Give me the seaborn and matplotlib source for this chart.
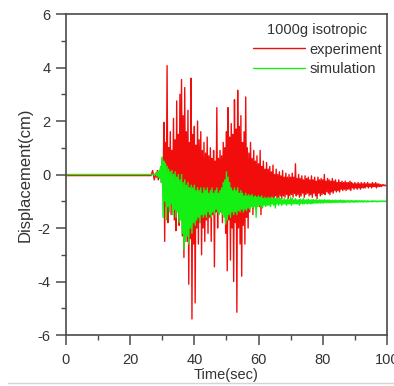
import numpy as np
import pandas as pd
import matplotlib
matplotlib.use("Agg")
import matplotlib.pyplot as plt
from matplotlib.lines import Line2D
from matplotlib.ticker import MultipleLocator
import seaborn as sns

# ---------------- data ----------------
# quiet part before the shaking (time, value)
pre_time = [0.0, 26.5, 27.0, 27.5]
exp_pre = [-0.04, -0.04, 0.15, -0.2]
sim_pre = [0.0, 0.0, 0.0, 0.0]

# strong-motion part: one peak and one trough every 0.5 s, from 28.0 s
t_start = 28.0
t_step = 0.5

exp_upper = [
    0.05, 0.15, 0.1, 0.3, 0.6, 1.95, 1.2, 4.07, 1.0, 1.6,
    0.9, 2.1, 1.3, 2.75, 1.5, 3.0, 3.55, 2.2, 3.25, 1.6,
    2.4, 1.2, 3.6, 1.5, 1.8, 1.1, 2.0, 1.3, 1.6, 0.9,
    1.2, 0.8, 1.4, 0.7, 1.0, 0.6, 0.9, 0.5, 2.5, 0.6,
    0.9, 0.7, 1.2, 1.0, 1.6, 2.5, 1.4, 1.9, 1.5, 2.8,
    1.7, 3.15, 1.8, 2.2, 1.2, 1.6, 2.9, 1.0, 0.8, 1.2,
    0.6, 0.9, 0.5, 0.7, 0.4, 0.9, 0.3, 0.5, 0.2, 0.45,
    0.2, 0.3, 0.1, 0.35, 0.0, 0.2, 0.0, 0.1, -0.05, 0.15,
    -0.1, 0.05, -0.1, 0.0, -0.1, 0.05, -0.1, 0.4, -0.15, 0.0,
    -0.15, -0.05, -0.2, -0.05, -0.15, -0.1, -0.2, -0.05, -0.2, -0.1,
    -0.25, -0.1, -0.2, -0.15, -0.2, 0.0, -0.25, -0.15, -0.2, -0.25,
    -0.15, -0.25, -0.2, -0.3, -0.2, -0.3, -0.25, -0.3, -0.25, -0.3,
    -0.3, -0.25, -0.3, -0.35, -0.3, -0.35, -0.3, -0.35, -0.3, -0.35,
    -0.3, -0.35, -0.3, -0.35, -0.35, -0.3, -0.35, -0.3, -0.35, -0.35,
    -0.38, -0.38, -0.38, -0.4,
]
exp_lower = [
    -0.1, -0.2, -0.05, -0.3, -0.6, -2.5, -1.2, -1.8, -0.9, -1.5,
    -1.0, -1.7, -2.1, -1.3, -1.9, -1.5, -2.3, -3.1, -1.8, -2.5,
    -4.1, -2.4, -5.4, -2.6, -4.8, -2.0, -2.6, -1.8, -3.0, -2.0,
    -2.5, -1.7, -2.2, -1.6, -2.5, -1.5, -3.45, -1.4, -2.0, -1.2,
    -1.4, -1.8, -1.3, -2.2, -3.6, -1.7, -3.2, -2.0, -4.0, -1.8,
    -5.15, -2.0, -2.6, -3.8, -1.9, -2.6, -1.6, -2.0, -1.4, -1.2,
    -1.5, -1.1, -1.3, -1.0, -1.2, -1.5, -1.0, -1.1, -0.9, -1.0,
    -0.9, -1.0, -0.85, -0.9, -0.8, -0.95, -0.85, -0.8, -0.9, -0.8,
    -0.85, -0.75, -0.9, -0.8, -0.75, -0.85, -0.7, -0.8, -0.75, -0.85,
    -0.8, -0.7, -0.85, -0.75, -0.7, -0.8, -0.75, -0.85, -0.7, -0.8,
    -0.9, -0.7, -0.8, -0.75, -0.7, -0.75, -0.65, -0.7, -0.75, -0.65,
    -0.7, -0.6, -0.65, -0.6, -0.65, -0.55, -0.6, -0.55, -0.6, -0.55,
    -0.55, -0.6, -0.5, -0.55, -0.5, -0.55, -0.5, -0.55, -0.5, -0.5,
    -0.5, -0.45, -0.5, -0.45, -0.5, -0.45, -0.45, -0.5, -0.45, -0.45,
    -0.45, -0.42, -0.42, -0.42,
]
sim_upper = [
    0.05, 0.1, 0.15, 0.3, 0.65, 0.5, 0.4, 0.3, 0.2, 0.1,
    0.15, 0.0, 0.1, -0.1, 0.0, -0.2, 0.0, -0.3, -0.2, -0.4,
    -0.3, -0.5, -0.4, -0.5, -0.4, -0.6, -0.5, -0.6, -0.5, -0.7,
    -0.5, -0.6, -0.5, -0.7, -0.6, -0.5, -0.7, -0.6, -0.5, -0.7,
    -0.6, -0.5, -0.3, -0.2, 0.1, -0.1, -0.3, -0.5, -0.6, -0.5,
    -0.6, -0.5, -0.7, -0.6, -0.7, -0.8, -0.7, -0.8, -0.75, -0.8,
    -0.75, -0.85, -0.8, -0.85, -0.8, -0.85, -0.8, -0.9, -0.85, -0.9,
    -0.85, -0.9, -0.85, -0.9, -0.85, -0.9, -0.9, -0.85, -0.9, -0.95,
    -0.9, -0.95, -0.9, -0.95, -0.85, -0.9, -0.95, -0.9, -0.95, -0.95,
    -0.92, -0.95, -0.9, -0.95, -0.95, -0.92, -0.95, -0.95, -0.93, -0.96,
    -0.93, -0.96, -0.95, -0.95, -0.96, -0.94, -0.96, -0.96, -0.95, -0.97,
    -0.96, -0.97, -0.96, -0.97, -0.97, -0.96, -0.97, -0.97, -0.97, -0.98,
    -0.97, -0.98, -0.97, -0.98, -0.98, -0.97, -0.98, -0.98, -0.98, -0.98,
    -0.98, -0.99, -0.98, -0.99, -0.99, -0.98, -0.99, -0.99, -0.99, -0.99,
    -0.99, -0.99, -0.99, -0.99,
]
sim_lower = [
    -0.05, -0.1, -0.15, -0.3, -1.6, -1.0, -1.7, -1.2, -1.4, -1.1,
    -1.5, -1.3, -1.6, -1.4, -1.8, -1.7, -2.2, -2.8, -2.5, -2.3,
    -2.6, -2.0, -2.2, -1.8, -1.9, -1.7, -1.6, -1.8, -1.5, -1.6,
    -1.5, -1.6, -1.4, -1.5, -1.6, -1.4, -1.5, -1.3, -1.4, -1.5,
    -1.4, -1.5, -1.6, -1.85, -1.7, -1.5, -1.6, -1.4, -1.5, -1.4,
    -1.5, -1.35, -1.4, -1.3, -1.4, -1.3, -1.35, -1.25, -1.3, -1.2,
    -1.25, -1.2, -1.6, -1.2, -1.15, -1.2, -1.25, -1.15, -1.2, -1.15,
    -1.15, -1.2, -1.1, -1.15, -1.25, -1.1, -1.15, -1.1, -1.15, -1.1,
    -1.1, -1.15, -1.1, -1.1, -1.15, -1.1, -1.1, -1.1, -1.1, -1.15,
    -1.08, -1.1, -1.1, -1.08, -1.1, -1.08, -1.1, -1.08, -1.08, -1.06,
    -1.08, -1.06, -1.07, -1.06, -1.07, -1.05, -1.06, -1.05, -1.06, -1.05,
    -1.05, -1.05, -1.04, -1.05, -1.04, -1.04, -1.05, -1.04, -1.04, -1.03,
    -1.04, -1.03, -1.03, -1.04, -1.03, -1.03, -1.03, -1.02, -1.03, -1.03,
    -1.02, -1.03, -1.02, -1.02, -1.02, -1.02, -1.01, -1.02, -1.02, -1.01,
    -1.01, -1.01, -1.01, -1.01,
]

series_names = ["experiment", "simulation"]
legend_title = "1000g isotropic"
x_label = "Time(sec)"
y_label = "Displacement(cm)"
x_ticks = [0, 20, 40, 60, 80, 100]
y_ticks = [-6, -4, -2, 0, 2, 4, 6]


def build(pre_vals, upper, lower, name):
    n = len(upper)
    t_up = t_start + t_step * np.arange(n)
    t_lo = t_up + t_step / 2
    times = list(pre_time) + list(np.ravel(np.column_stack([t_up, t_lo])))
    vals = list(pre_vals) + list(np.ravel(np.column_stack([upper, lower])))
    return pd.DataFrame({"Time": times, "Displacement": vals, "series": name})


df = pd.concat([
    build(exp_pre, exp_upper, exp_lower, series_names[0]),
    build(sim_pre, sim_upper, sim_lower, series_names[1]),
], ignore_index=True)

# ---------------- style ----------------
sns.set_style("ticks")
plt.rcParams["font.family"] = ["Liberation Sans", "DejaVu Sans"]
plt.rcParams["axes.unicode_minus"] = False

colors = {"experiment": "#f20d0d", "simulation": "#14f014"}

fig = plt.figure(figsize=(3.94, 3.86), dpi=100)
ax = fig.add_axes([0.1675, 0.1321, 0.8145, 0.8316])

sns.lineplot(data=df, x="Time", y="Displacement", hue="series",
             hue_order=series_names, palette=colors, estimator=None,
             linewidth=1.0, legend=False, ax=ax)

ax.set_xlim(0, 100)
ax.set_ylim(-6, 6)
ax.set_xticks(x_ticks)
ax.set_yticks(y_ticks)
ax.xaxis.set_minor_locator(MultipleLocator(10))
ax.yaxis.set_minor_locator(MultipleLocator(1))

spine_col = "#4a4a4a"
for s in ax.spines.values():
    s.set_visible(True)
    s.set_color(spine_col)
    s.set_linewidth(1.2)

ax.tick_params(axis="both", which="major", direction="out", length=7,
               width=1.1, color=spine_col, labelsize=10.5, labelcolor="#333333",
               top=False, right=False)
ax.tick_params(axis="both", which="minor", direction="out", length=3.5,
               width=1.0, color=spine_col, top=False, right=False)
ax.tick_params(axis="x", which="major", pad=6)
ax.tick_params(axis="y", which="major", pad=4)

ax.set_xlabel(x_label, fontsize=10.5, color="#333333", labelpad=1)
ax.set_ylabel(y_label, fontsize=12, color="#333333", labelpad=4)

handles = [Line2D([], [], color=colors[n], lw=1.0) for n in series_names]
leg = ax.legend(handles, series_names, title=legend_title, loc="upper right",
                bbox_to_anchor=(1.012, 1.0),
                frameon=False, fontsize=10.5, title_fontsize=10.5,
                handlelength=3.6, handletextpad=0.3, labelspacing=0.4,
                borderaxespad=0.1, borderpad=0.5)
for t in leg.get_texts():
    t.set_color("#333333")
leg.get_title().set_color("#333333")

# thin grey rule at the bottom of the picture
fig.add_artist(Line2D([0.02, 1.0], [0.008, 0.008], transform=fig.transFigure,
                      color="#d5d5d5", lw=1.0))

fig.savefig("out.png", dpi=100)
